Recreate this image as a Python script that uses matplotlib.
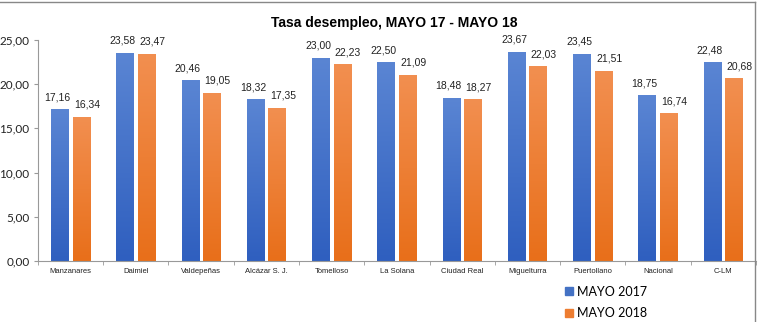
import numpy as np
import matplotlib.pyplot as plt
from matplotlib.lines import Line2D
from matplotlib.colors import LinearSegmentedColormap

categories = ['Manzanares', 'Daimiel', 'Valdepeñas', 'Alcázar S. J.', 'Tomelloso',
              'La Solana', 'Ciudad Real', 'Miguelturra', 'Puertollano', 'Nacional', 'C-LM']
mayo_2017 = [17.16, 23.58, 20.46, 18.32, 23.00, 22.50, 18.48, 23.67, 23.45, 18.75, 22.48]
mayo_2018 = [16.34, 23.47, 19.05, 17.35, 22.23, 21.09, 18.27, 22.03, 21.51, 16.74, 20.68]
series_names = ['MAYO 2017', 'MAYO 2018']
yticks = [0, 5, 10, 15, 20, 25]

blue = '#4472C4'
orange = '#ED7D31'
blue_grad = LinearSegmentedColormap.from_list('b', ['#2F5FBF', '#5A85D3'])
orange_grad = LinearSegmentedColormap.from_list('o', ['#E86F1A', '#F28F50'])

plt.rcParams['font.family'] = 'Liberation Sans'

def fmt(v):
    return f'{v:.2f}'.replace('.', ',')

fig = plt.figure(figsize=(7.59, 3.22), dpi=100)
ax = fig.add_axes([0.050, 0.1894, 0.946, 0.6864])

x = np.arange(len(categories))
w = 0.27
b1 = ax.bar(x - 0.165, mayo_2017, w, color=blue)
b2 = ax.bar(x + 0.165, mayo_2018, w, color=orange)

# vertical gradient fill, like the original
grad = np.linspace(0, 1, 100).reshape(-1, 1)
for bars, cmap in ((b1, blue_grad), (b2, orange_grad)):
    for bar in bars:
        x0, y0 = bar.get_x(), bar.get_y()
        im = ax.imshow(grad, cmap=cmap, origin='lower', aspect='auto',
                       extent=(x0, x0 + bar.get_width(), y0, y0 + bar.get_height()),
                       zorder=bar.get_zorder())
        im.set_clip_path(bar)

for xi, v in zip(x, mayo_2017):
    ax.annotate(fmt(v), (xi - 0.165, v), xytext=(-2, 5), textcoords='offset points',
                ha='center', va='bottom', fontsize=7.5, color='#222222', annotation_clip=False)
for xi, v in zip(x, mayo_2018):
    ax.annotate(fmt(v), (xi + 0.165, v), xytext=(4, 5), textcoords='offset points',
                ha='center', va='bottom', fontsize=7.5, color='#222222', annotation_clip=False)

ax.set_xlim(-0.5, len(categories) - 0.5)
ax.set_ylim(0, 25)
ax.set_yticks(yticks)
ax.set_yticklabels([fmt(t) for t in yticks], fontsize=8.5, color='#222222', family='Lato')
ax.set_xticks(x)
ax.set_xticklabels(categories, fontsize=5.5, color='#222222')
ax.tick_params(axis='x', length=0, pad=5)
ax.set_xticks(np.arange(-0.5, len(categories)), minor=True)
ax.tick_params(axis='x', which='minor', length=3, color='#999999')
ax.tick_params(axis='y', length=3, color='#999999', pad=3)

for s in ['top', 'right']:
    ax.spines[s].set_visible(False)
for s in ['left', 'bottom']:
    ax.spines[s].set_color('#999999')
    ax.spines[s].set_linewidth(0.8)

fig.text(0.52, 0.93, 'Tasa desempleo, MAYO 17 - MAYO 18', ha='center', va='center',
         fontsize=10, fontweight='bold')

handles = [Line2D([], [], marker='s', linestyle='none', color=c, markersize=6)
           for c in (blue, orange)]
fig.legend(handles, series_names, loc='upper left', bbox_to_anchor=(0.735, 0.128),
           frameon=False, prop={'family': 'Lato', 'size': 9}, handletextpad=0.1,
           labelspacing=0.75, handlelength=1.0, borderaxespad=0)

# frame border (top and right)
fig.add_artist(Line2D([0, 0.995], [0.994, 0.994], transform=fig.transFigure, color='#888888', lw=1))
fig.add_artist(Line2D([0.995, 0.995], [0, 0.994], transform=fig.transFigure, color='#888888', lw=1))

fig.savefig('out.png', dpi=100)
